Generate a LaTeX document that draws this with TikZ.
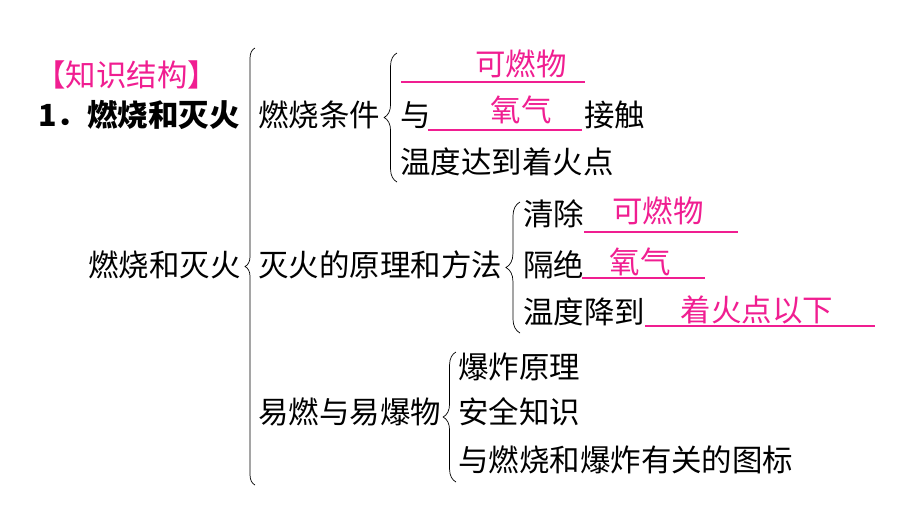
\documentclass[tikz,border=0pt]{standalone}
\usepackage{fontspec}
\setmainfont{Noto Sans CJK SC}
\usetikzlibrary{decorations.pathreplacing,positioning}
\definecolor{keypink}{RGB}{240,30,145}

\begin{document}
\begin{tikzpicture}[x=0.03cm,y=-0.03cm,
    every node/.style={inner sep=0pt,anchor=west,font=\fontsize{26}{30}\selectfont},
    answer/.style={anchor=center,text=keypink},
    blank/.style={draw=keypink,line width=1.1pt},
    curly/.style={decorate,decoration={brace,amplitude=#1},line width=0.6pt}]
    \useasboundingbox (0,0) rectangle (920,518);
    \node[text=keypink] (head) at (35,75) {【知识结构】};
    \node[font=\fontsize{26}{30}\selectfont\bfseries] (title) at (38,115) {1．燃烧和灭火};
    \node (root) at (88,265) {燃烧和灭火};
    \node (cond) at (258,115) {燃烧条件};
    \node (put) at (258,265) {灭火的原理和方法};
    \node (boom) at (258,412) {易燃与易爆物};
    % braces
    \draw[curly=8.5pt] (255,485) -- (255,48);
    \draw[curly=11pt] (397,182) -- (397,53);
    \draw[curly=12pt] (520,333) -- (520,202);
    \draw[curly=11pt] (456,482) -- (456,352);
    % burning conditions
    \draw[blank] (401,82) coordinate (u1a) -- (585,82) coordinate (u1b);
    \node[answer] (a1) at (521,64) {可燃物};
    \node (c2) at (400,115) {与};
    \draw[blank] (428,130) coordinate (u2a) -- (582,130) coordinate (u2b);
    \node[answer] (a2) at (521,110) {氧气};
    \node (c2b) at (584,115) {接触};
    \node (c3) at (400,162) {温度达到着火点};
    % putting out fire
    \node (p1) at (523,214) {清除};
    \draw[blank] (584,232) coordinate (v1a) -- (738,232) coordinate (v1b);
    \node[answer] (b1) at (658,211) {可燃物};
    \node (p2) at (523,265) {隔绝};
    \draw[blank] (582,278) coordinate (v2a) -- (705,278) coordinate (v2b);
    \node[answer] (b2) at (640,262) {氧气};
    \node (p3) at (523,312) {温度降到};
    \draw[blank] (645,326) coordinate (v3a) -- (875,326) coordinate (v3b);
    \node[answer] (b3) at (757,310) {着火点以下};
    % flammable and explosive
    \node (e1) at (458,367) {爆炸原理};
    \node (e2) at (458,412) {安全知识};
    \node (e3) at (458,460) {与燃烧和爆炸有关的图标};
\end{tikzpicture}
\end{document}
